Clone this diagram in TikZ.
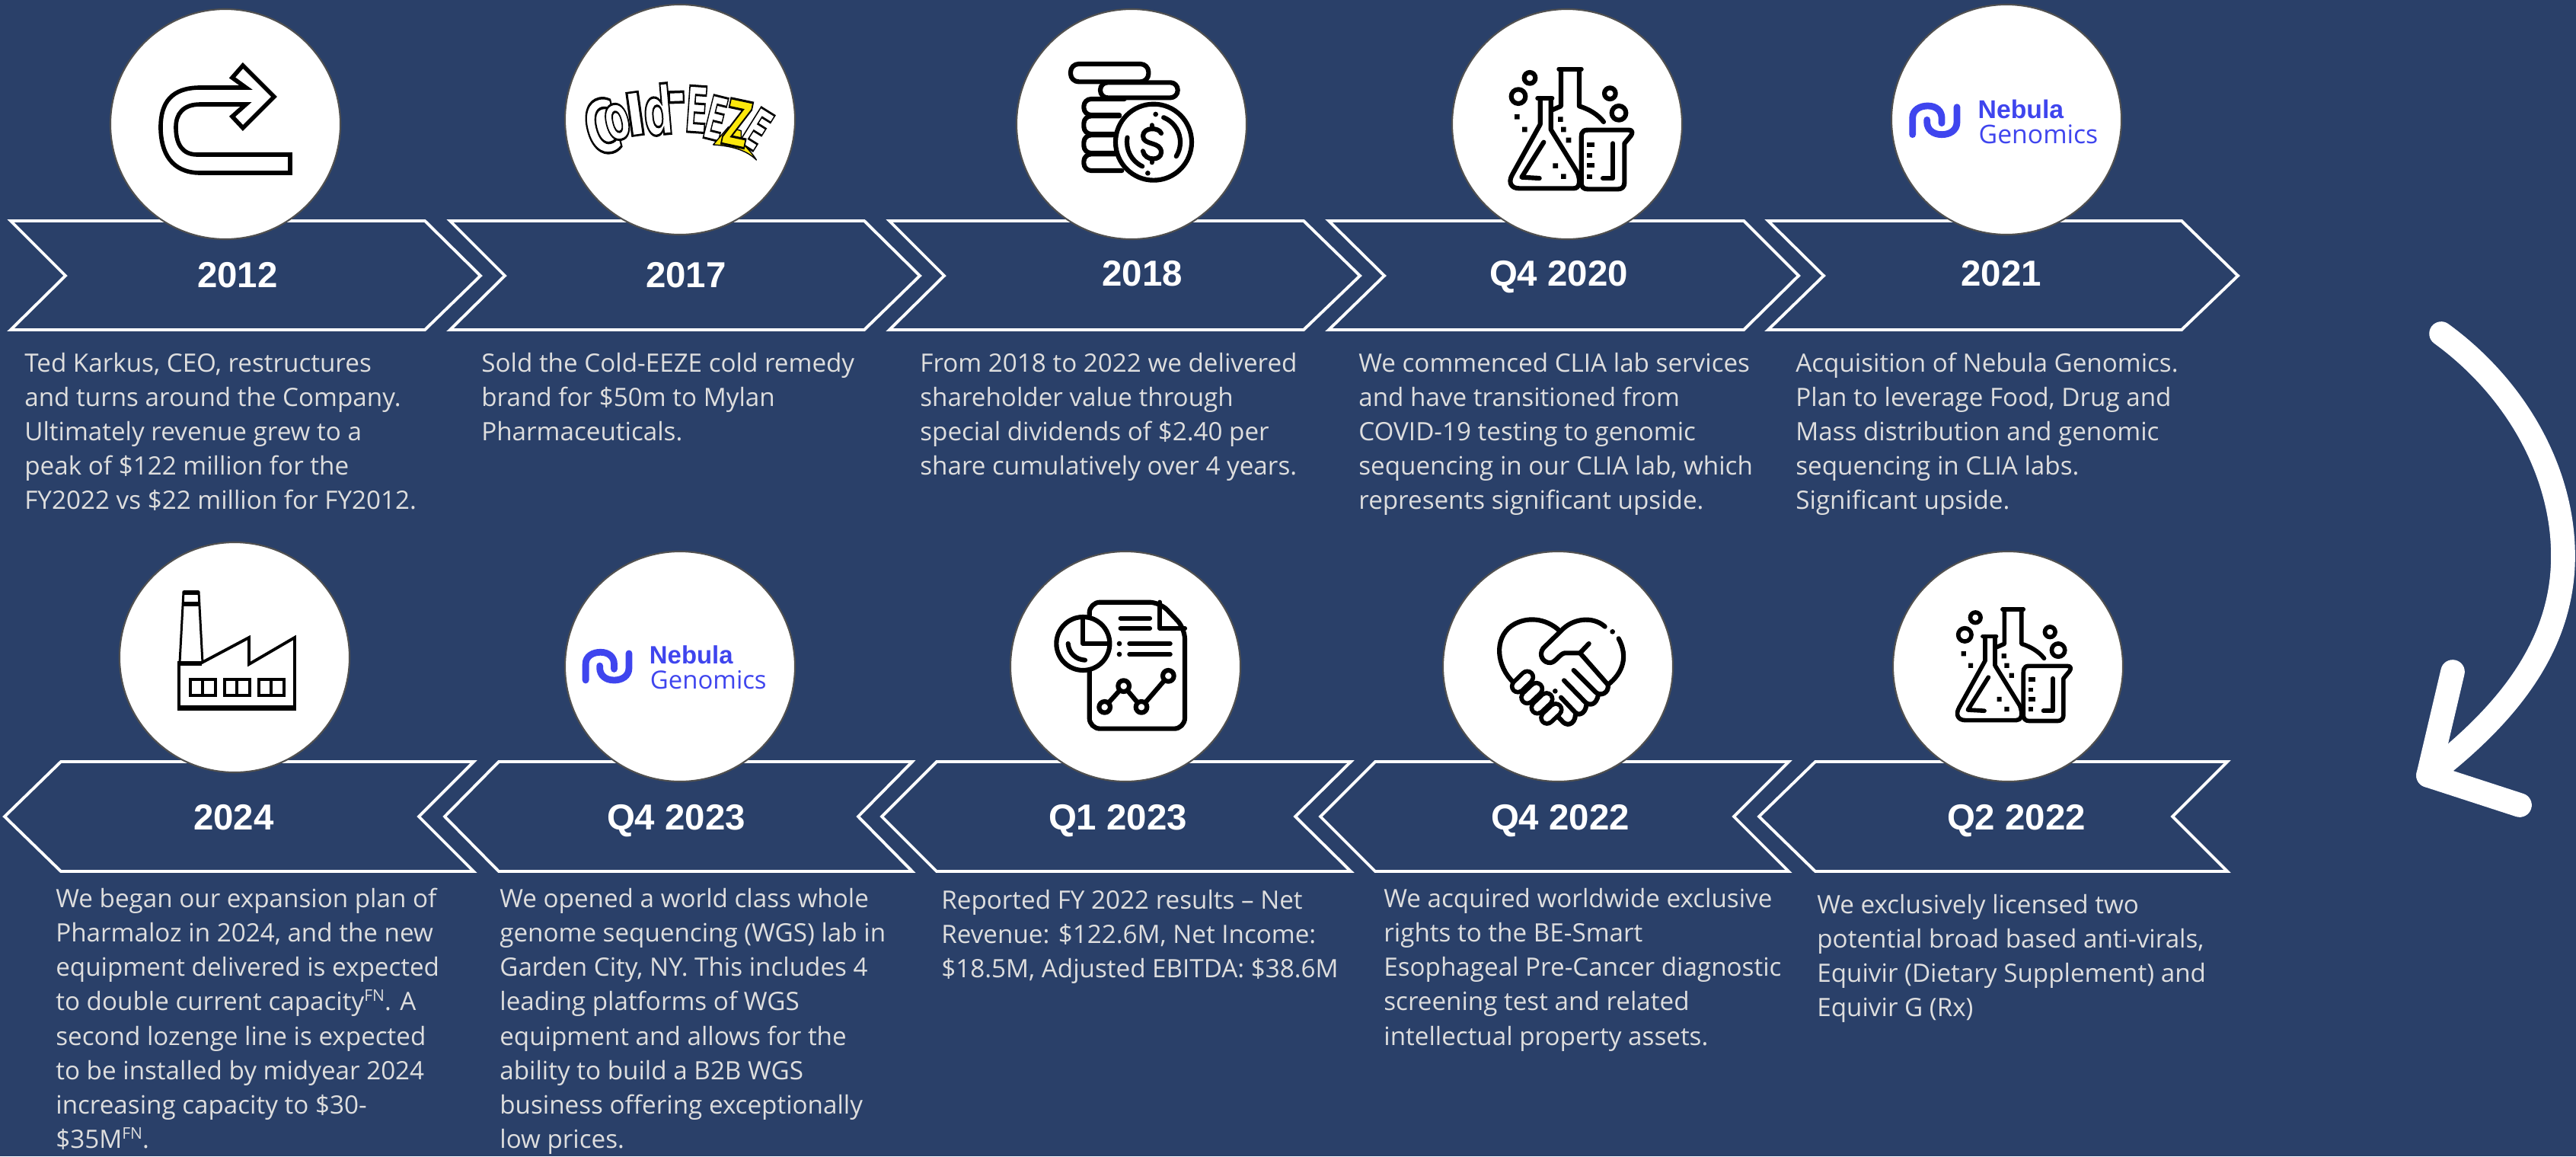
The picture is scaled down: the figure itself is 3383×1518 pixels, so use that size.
\documentclass[tikz,border=0pt]{standalone}
\usepackage{fontspec}
\usepackage{xcolor}
\setmainfont{Open Sans}
\newfontfamily\bodyfont{Open Sans}
\newfontfamily\yearfont{Liberation Sans}
\newfontfamily\logofont{DejaVu Sans}
\definecolor{bgblue}{HTML}{2A4069}
\definecolor{bodygray}{HTML}{DEDEDE}
\definecolor{ringgray}{HTML}{505050}
\definecolor{nebblue}{HTML}{3F45EE}
\definecolor{zapyellow}{HTML}{FCE80C}
\newcommand{\FNmark}{\raisebox{.36em}{\fontsize{12}{12}\selectfont FN}}
\newcommand{\outl}[1]{\special{pdf:code 2 Tr 0 0 0 RG 1.8 w}#1\special{pdf:code 0 Tr}}
\tikzset{
  chev/.style={draw=white,line width=2.2pt,fill=bgblue,line join=miter},
  disc/.style={draw=ringgray,line width=1.2pt,fill=white},
  yearlabel/.style={font=\yearfont\bfseries\fontsize{27}{27}\selectfont,text=white,inner sep=0pt,anchor=base},
  bodytext/.style={font=\bodyfont\fontsize{18.9}{25.75}\selectfont,text=bodygray,align=left,anchor=north west,inner sep=0pt},
  iconscope/.style={x=0.0066667cm,y=-0.0066667cm},
  ico/.style={draw=black,line width=3.5pt,line cap=round,line join=round},
  bigarrow/.style={draw=white,line width=18pt,line cap=round,line join=round},
  coldletter/.style={font=\logofont\bfseries\fontsize{50}{50}\selectfont,text=white,inner sep=0pt},
  nebbold/.style={font=\yearfont\bfseries\fontsize{19.2}{19.2}\selectfont,text=nebblue,anchor=base west,inner sep=0pt},
  nebthin/.style={font=\bodyfont\fontsize{19.2}{19.2}\selectfont,text=nebblue,anchor=base west,inner sep=0pt},
}
\newcommand{\flaskicon}[1]{%
  \begin{scope}[ico,line width=#1]
  \draw (232,32)--(320,32);
  \draw (240,35)--(240,178)--(208,192);
  \draw (312,35)--(312,178) .. controls (350,190) and (385,210) .. (408,240);
  \draw[fill=white] (148,147)--(205,147);
  \draw (158,147)--(158,250)--(48,448) .. controls (30,480) and (45,502) .. (75,502)--(290,502) .. controls (310,502) and (320,480) .. (305,440)--(200,270)--(200,147);
  \draw (172,320)--(85,458)--(155,462);
  \draw[fill=white] (345,505) .. controls (328,505) and (320,495) .. (320,480)--(320,320) .. controls (320,290) and (318,272) .. (345,272)--(505,272) .. controls (525,272) and (522,285) .. (515,295)--(490,325)--(490,480) .. controls (490,495) and (480,505) .. (465,505)--cycle;
  \draw (445,325)--(445,462)--(405,462);
  \draw[line cap=butt] (342,330)--(372,330) (342,372)--(362,372) (342,412)--(372,412) (342,455)--(362,455);
  \draw (117,67) circle[radius=22] (72,140) circle[radius=28] (433,128) circle[radius=22] (468,205) circle[radius=28];
  \fill[black] (57,210) rectangle (77,230) (87,260) rectangle (107,280) (228,220) rectangle (248,240) (240,260) rectangle (260,280) (260,302) rectangle (280,322) (208,403) rectangle (228,423) (240,445) rectangle (260,465);
  \end{scope}}
\newcommand{\nebulalogo}{%
  \draw[draw=nebblue,line width=5pt,line cap=round] (65,200)--(65,135) .. controls (65,102) and (95,87) .. (125,87) .. controls (160,87) and (180,108) .. (180,135)--(180,155);
  \draw[draw=nebblue,line width=5pt,line cap=round] (240,92)--(240,150) .. controls (240,185) and (210,200) .. (180,200) .. controls (145,200) and (122,180) .. (122,150)--(122,142);
}
\begin{document}
\begin{tikzpicture}[x=0.02cm,y=-0.02cm]
\useasboundingbox (0,0) rectangle (3383,1518);
\fill[bgblue] (0,0) rectangle (3383,1518);
% top chevrons
\draw[chev] (14,290)--(558,290)--(631,362)--(558,433)--(14,433)--(86,362)--cycle;
\draw[chev] (591,290)--(1135,290)--(1208,362)--(1135,433)--(591,433)--(663,362)--cycle;
\draw[chev] (1168,290)--(1712,290)--(1786,362)--(1712,433)--(1168,433)--(1240,362)--cycle;
\draw[chev] (1745,290)--(2290,290)--(2362,362)--(2290,433)--(1745,433)--(1818,362)--cycle;
\draw[chev] (2322,290)--(2865,290)--(2939,362)--(2865,433)--(2322,433)--(2395,362)--cycle;
% bottom chevrons
\draw[chev] (6,1072)--(80,1000)--(622,1000)--(550,1072)--(622,1144)--(80,1144)--cycle;
\draw[chev] (584,1072)--(655,1000)--(1198,1000)--(1127,1072)--(1198,1144)--(655,1144)--cycle;
\draw[chev] (1158,1072)--(1230,1000)--(1774,1000)--(1701,1072)--(1774,1144)--(1230,1144)--cycle;
\draw[chev] (1734,1072)--(1806,1000)--(2349,1000)--(2277,1072)--(2349,1144)--(1806,1144)--cycle;
\draw[chev] (2310,1072)--(2384,1000)--(2925,1000)--(2853,1072)--(2925,1144)--(2384,1144)--cycle;
% discs
\draw[disc] (296,163) circle[radius=151];
\draw[disc] (893,157) circle[radius=151];
\draw[disc] (1486,163) circle[radius=151];
\draw[disc] (2058,163) circle[radius=151];
\draw[disc] (2635,157) circle[radius=151];
\draw[disc] (308,863) circle[radius=151];
\draw[disc] (893,875) circle[radius=151];
\draw[disc] (1478,875) circle[radius=151];
\draw[disc] (2046,875) circle[radius=151];
\draw[disc] (2637,875) circle[radius=151];
% year labels
\node[yearlabel] (y2012) at (312,377) {2012};
\node[yearlabel] (y2017) at (901,377) {2017};
\node[yearlabel] (y2018) at (1500,375) {2018};
\node[yearlabel] (yq420) at (2047,375) {Q4 2020};
\node[yearlabel] (y2021) at (2628,375) {2021};
\node[yearlabel] (y2024) at (307,1089) {2024};
\node[yearlabel] (yq423) at (888,1089) {Q4 2023};
\node[yearlabel] (yq123) at (1468,1089) {Q1 2023};
\node[yearlabel] (yq422) at (2049,1089) {Q4 2022};
\node[yearlabel] (yq222) at (2648,1089) {Q2 2022};
% body
\node[bodytext] (t2012) at (32,456) {\strut Ted Karkus, CEO, restructures\\and turns around the Company.\\Ultimately revenue grew to a\\peak of \$122 million for the\\FY2022 vs \$22 million for FY2012.};
\node[bodytext] (t2017) at (632,456) {\strut Sold the Cold-EEZE cold remedy\\brand for \$50m to Mylan\\Pharmaceuticals.};
\node[bodytext] (t2018) at (1208,456) {\strut From 2018 to 2022 we delivered\\shareholder value through\\special dividends of \$2.40 per\\share cumulatively over 4 years.};
\node[bodytext] (tq420) at (1784,456) {\strut We commenced CLIA lab services\\and have transitioned from\\COVID-19 testing to genomic\\sequencing in our CLIA lab, which\\represents significant upside.};
\node[bodytext] (t2021) at (2358,456) {\strut Acquisition of Nebula Genomics.\\Plan to leverage Food, Drug and\\Mass distribution and genomic\\sequencing in CLIA labs.\\Significant upside.};
\node[bodytext] (t2024) at (73,1159) {\strut We began our expansion plan of\\Pharmaloz in 2024, and the new\\equipment delivered is expected\\to double current capacity\FNmark. A\\second lozenge line is expected\\to be installed by midyear 2024\\increasing capacity to \$30-\\\$35M\FNmark.};
\node[bodytext] (tq423) at (656,1159) {\strut We opened a world class whole\\genome sequencing (WGS) lab in\\Garden City, NY. This includes 4\\leading platforms of WGS\\equipment and allows for the\\ability to build a B2B WGS\\business offering exceptionally\\low prices.};
\node[bodytext] (tq123) at (1236,1161) {\strut Reported FY 2022 results – Net\\Revenue: \$122.6M, Net Income:\\\$18.5M, Adjusted EBITDA: \$38.6M};
\node[bodytext] (tq422) at (1817,1159) {\strut We acquired worldwide exclusive\\rights to the BE-Smart\\Esophageal Pre-Cancer diagnostic\\screening test and related\\intellectual property assets.};
\node[bodytext] (tq222) at (2386,1167) {\strut We exclusively licensed two\\potential broad based anti-virals,\\Equivir (Dietary Supplement) and\\Equivir G (Rx)};
% U-turn icon
\draw[ico,line join=miter,line width=3.2pt] (381,203)--(381,227)--(263,227) .. controls (225,227) and (211,200) .. (211,167) .. controls (211,135) and (225,115) .. (263,115)--(323,115)--(305,102)--(319,86)--(360,127)--(319,168)--(305,153)--(323,137)--(263,137) .. controls (240,137) and (231,150) .. (231,167) .. controls (231,190) and (240,203) .. (259,203)--cycle;
% Cold-EEZE
\begin{scope}[shift={(760,100)},iconscope]
\node[coldletter,rotate=14,xscale=.7,yscale=1.1] (ccC) at (92,198) {\outl{C}};
\node[coldletter,rotate=14,xscale=.55,yscale=.95] (cco) at (152,180) {\outl{o}};
\node[coldletter,rotate=8,xscale=.95,yscale=.85] (ccl) at (222,148) {\outl{l}};
\node[coldletter,rotate=5,xscale=.62,yscale=1] (ccd) at (312,132) {\outl{d}};
\node[coldletter,rotate=2,xscale=.7,yscale=1.1] (cch) at (386,114) {\outl{-}};
\node[coldletter,rotate=-4,xscale=.5,yscale=.95] (cce) at (465,130) {\outl{E}};
\node[coldletter,rotate=-14,xscale=.45,yscale=.9] (ccf) at (540,165) {\outl{E}};
\node[coldletter,rotate=-32,xscale=.48,yscale=.85] (ccg) at (702,208) {\outl{E}};
\draw[draw=black,line width=.8pt,fill=zapyellow,line join=round] (640,258) .. controls (665,285) and (685,305) .. (700,330) .. controls (665,295) and (610,275) .. (530,270)--(590,200)--(640,215)--cycle;
\node[coldletter,rotate=-12,xscale=.55,yscale=.95,text=zapyellow] (ccz) at (625,185) {\outl{Z}};
\end{scope}
% coins
\begin{scope}[shift={(1390,70)},iconscope]
\draw[ico,rounded corners=6pt,fill=white] (48,42) rectangle (355,112);
\draw[ico,rounded corners=5.5pt,fill=white] (165,115) rectangle (470,175);
\draw[ico,rounded corners=5.5pt] (260,180)--(100,180)--(100,243)--(240,243);
\draw[ico,rounded corners=5.5pt] (240,247)--(100,247)--(100,318)--(225,318);
\draw[ico,rounded corners=5.5pt] (225,322)--(100,322)--(100,393)--(225,393);
\draw[ico,rounded corners=5.5pt] (225,397)--(100,397)--(100,462)--(250,462);
\draw[ico,fill=white] (375,350) circle[radius=150];
\draw[ico] ({375+105*cos(68)},{350-105*sin(68)}) arc[start angle=-68,delta angle=100,radius=105];
\draw[ico] ({375+105*cos(170)},{350-105*sin(170)}) arc[start angle=-170,delta angle=-75,radius=105];
\fill[black] (383,240) circle[radius=10] (352,472) circle[radius=10];
\draw[ico] (405,315) .. controls (395,290) and (335,290) .. (333,325) .. controls (333,365) and (405,345) .. (405,390) .. controls (405,425) and (340,425) .. (333,385);
\draw[ico] (368,283)--(368,297) (368,415)--(368,430);
\end{scope}
% flask 1
\begin{scope}[shift={(1970,80)},iconscope]
\flaskicon{3.5pt}
\end{scope}
% flask 2
\begin{scope}[shift={(2558,790)},iconscope,scale=.93]
\flaskicon{3.2pt}
\end{scope}
% Nebula 1
\begin{scope}[shift={(2490,110)},iconscope]
\nebulalogo
\node[nebbold] (nb1) at (322,135) {Nebula};
\node[nebthin] (ng1) at (325,235) {Genomics};
\end{scope}
% Nebula 2
\begin{scope}[shift={(748,828)},iconscope,scale=.975,transform shape]
\nebulalogo
\node[nebbold] (nb2) at (322,135) {Nebula};
\node[nebthin] (ng2) at (325,235) {Genomics};
\end{scope}
% factory
\begin{scope}[line join=miter]
\draw[draw=black,line width=2.2pt] (235,931)--(235,870)--(265,870)--(327,837)--(327,872)--(387,837)--(387,931)--cycle;
\draw[draw=black,line width=4pt] (235,929)--(387,929);
\draw[draw=black,line width=3pt] (235,871)--(265,871);
\draw[draw=black,line width=1.7pt] (236,870)--(241,777)--(261,777)--(266,870);
\draw[draw=black,line width=3pt] (241,778)--(261,778) (240,793)--(262,793);
\draw[draw=black,line width=2.4pt] (250,892) rectangle (283,913) (266,892)--(266,913);
\draw[draw=black,line width=2.4pt] (295,892) rectangle (328,913) (311,892)--(311,913);
\draw[draw=black,line width=2.4pt] (340,892) rectangle (373,913) (356,892)--(356,913);
\end{scope}
% report
\begin{scope}[shift={(1380,780)},iconscope]
\draw[ico,rounded corners=8pt] (152,85)--(152,32)--(430,32)--(528,135)--(528,530)--(152,530)--(152,300);
\draw[ico] (430,32)--(430,135)--(528,135);
\draw[ico,fill=white] (127,195) circle[radius=105];
\draw[ico] (127,95)--(127,195)--(225,195);
\draw[ico] (68,195) .. controls (72,235) and (100,258) .. (135,260);
\draw[ico] (275,95)--(390,95) (275,135)--(390,135) (310,195)--(470,195) (310,237)--(470,237);
\fill[black] (270,195) circle[radius=10] (270,237) circle[radius=10];
\draw[ico] (212,445)--(287,362)--(357,445)--(463,322);
\draw[ico,fill=white] (212,445) circle[radius=22] (287,362) circle[radius=22] (357,445) circle[radius=22] (463,322) circle[radius=22];
\end{scope}
% handshake
\begin{scope}[shift={(1955,795)},iconscope]
\draw[ico] (100,305) .. controls (30,240) and (20,130) .. (90,80) .. controls (150,40) and (225,50) .. (278,98);
\draw[ico] (215,168) -- (285,100) .. controls (330,50) and (410,40) .. (458,83);
\draw[ico] (512,130) .. controls (550,200) and (530,265) .. (470,312);
\draw[ico] (215,168) .. controls (195,195) and (215,228) .. (245,225) .. controls (265,222) and (280,190) .. (300,187)--(360,187)--(395,150);
\draw[ico] (360,187)--(470,312) .. controls (475,345) and (440,360) .. (420,340)--(335,255);
\draw[ico] (432,350) .. controls (425,395) and (395,395) .. (380,380)--(297,295);
\draw[ico] (385,392) .. controls (380,430) and (350,435) .. (340,420)--(285,362);
\draw[ico] (342,430) .. controls (340,470) and (305,480) .. (285,450)--(270,435);
\fill[black] (488,103) circle[radius=10] (262,337) circle[radius=10];
\foreach \a/\b/\c/\d in {115/318/152/282,152/362/188/328,192/402/228/368,230/442/264/410}{
  \draw[black,line width=12pt,line cap=round] (\a,\b)--(\c,\d);
  \draw[white,line width=5.6pt,line cap=round] (\a,\b)--(\c,\d);
}
\end{scope}
% big curved arrow
\coordinate (arrowstart) at (3206,438);
\coordinate (arrowmid) at (3366,730);
\coordinate (arrowend) at (3189,1018);
\coordinate (armone) at (3221,882);
\coordinate (armtwo) at (3309,1057);
\draw[bigarrow] (arrowstart) .. controls (3305,510) and (3366,620) .. (arrowmid) .. controls (3366,850) and (3290,940) .. (arrowend);
\draw[bigarrow] (armone)--(arrowend)--(armtwo);
\end{tikzpicture}
\end{document}
